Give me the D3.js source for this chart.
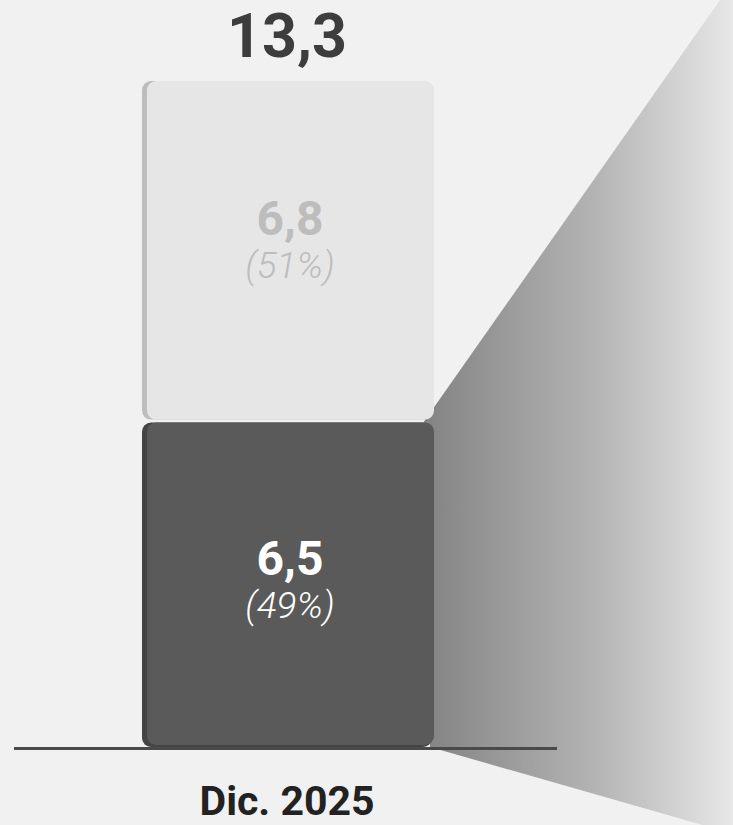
<!DOCTYPE html>
<html>
<head>
<meta charset="utf-8">
<script src="https://cdn.jsdelivr.net/npm/d3@7"></script>
<style>
  html, body { margin: 0; padding: 0; background: #f1f1f1; }
  svg { display: block; }
</style>
</head>
<body>
<svg id="chart" width="733" height="825"></svg>
<script>
// data
const category = 'Dic. 2025';
const segments = ['bottom', 'top'];
const values = [6.5, 6.8];
const shares = ['49%', '51%'];
const totalLabel = '13,3';

const width = 733, height = 825;
const svg = d3.select('#chart');

svg.append('rect').attr('width', width).attr('height', height).attr('fill', '#f1f1f1');

const total = d3.sum(values);
const x = d3.scaleBand().domain([category]).range([142, 434]).padding(0);
const y = d3.scaleLinear().domain([0, total]).range([747, 81]);

const fmt = v => d3.format('.1f')(v).replace('.', ',');

// stacked positions
let acc = 0;
const stack = values.map((v, i) => {
    const d = { key: segments[i], v: v, share: shares[i], y0: acc, y1: acc + v };
    acc += v;
    return d;
});

const bx = x(category);
const bw = x.bandwidth();
const split = y(stack[0].y1);

// gradient funnel on the right
const defs = svg.append('defs');
const grad = defs.append('linearGradient').attr('id', 'fan')
    .attr('x1', '0%').attr('x2', '100%').attr('y1', '0%').attr('y2', '0%');
grad.append('stop').attr('offset', '0%').attr('stop-color', '#838383');
grad.append('stop').attr('offset', '55%').attr('stop-color', '#b4b4b4');
grad.append('stop').attr('offset', '100%').attr('stop-color', '#e9e9e9');

const x0 = bx + bw - 10;
const slopeUp = split / (720 - x0);
const pts = [
    [x0, split],
    [width + 5, split - slopeUp * (width + 5 - x0)],
    [width + 5, y(0) + 0.29 * (width + 5 - (bx + bw))],
    [bx + bw - 4, y(0)]
];
svg.append('polygon')
    .attr('points', pts.map(p => p.join(',')).join(' '))
    .attr('fill', 'url(#fan)');

// bars
const colors = { bottom: '#5a5a5a', top: '#e6e6e6' };
const edge = { bottom: '#444444', top: '#bdbdbd' };

const bars = svg.append('g').selectAll('g').data(stack).enter().append('g');

bars.append('rect')
    .attr('x', bx)
    .attr('y', d => y(d.y1) + (d.key === 'top' ? 0 : 1))
    .attr('width', bw - 2)
    .attr('height', d => y(d.y0) - y(d.y1) - (d.key === 'top' ? 2 : 1))
    .attr('rx', 9)
    .attr('fill', d => edge[d.key]);

bars.append('rect')
    .attr('x', bx + 5)
    .attr('y', d => y(d.y1) + (d.key === 'top' ? 0 : 1))
    .attr('width', bw - 5)
    .attr('height', d => y(d.y0) - y(d.y1) - (d.key === 'top' ? 2 : 3))
    .attr('rx', 9)
    .attr('fill', d => colors[d.key]);

// baseline
svg.append('line')
    .attr('x1', 14).attr('x2', 557)
    .attr('y1', y(0) + 1.5).attr('y2', y(0) + 1.5)
    .attr('stroke', '#4a4a4a').attr('stroke-width', 3);

// labels inside bars
const labelColor = { bottom: '#ffffff', top: '#bdbdbd' };
const labelShift = { bottom: -9, top: -16 };
const cx = bx + bw / 2 + 2;

bars.append('text')
    .attr('x', cx)
    .attr('y', d => (y(d.y0) + y(d.y1)) / 2 + labelShift[d.key])
    .attr('text-anchor', 'middle')
    .style('font-family', 'Roboto, sans-serif')
    .style('font-weight', 700)
    .style('font-size', '48px')
    .style('fill', d => labelColor[d.key])
    .text(d => fmt(d.v));

bars.append('text')
    .attr('x', cx)
    .attr('y', d => (y(d.y0) + y(d.y1)) / 2 + labelShift[d.key] + 43)
    .attr('text-anchor', 'middle')
    .style('font-family', 'Roboto, sans-serif')
    .style('font-weight', 300)
    .style('font-style', 'italic')
    .style('font-size', '37px')
    .style('fill', d => labelColor[d.key])
    .text(d => '(' + d.share + ')');

// total
svg.append('text')
    .attr('x', cx - 3)
    .attr('y', y(total) - 24)
    .attr('text-anchor', 'middle')
    .style('font-family', 'Roboto, sans-serif')
    .style('font-weight', 700)
    .style('font-size', '61px')
    .style('fill', '#3d3d3d')
    .text(totalLabel);

// category label
svg.append('text')
    .attr('x', cx - 3)
    .attr('y', 815)
    .attr('text-anchor', 'middle')
    .style('font-family', 'Roboto, sans-serif')
    .style('font-weight', 700)
    .style('font-size', '41px')
    .style('fill', '#222222')
    .text(category);
</script>
</body>
</html>
